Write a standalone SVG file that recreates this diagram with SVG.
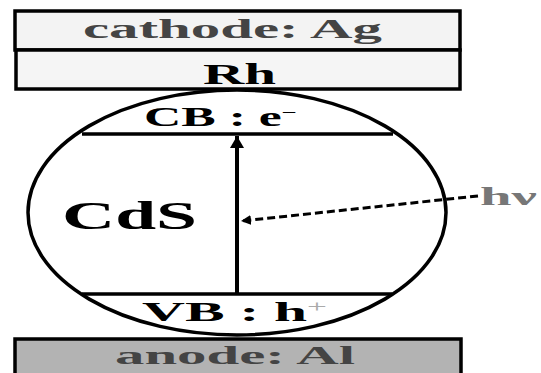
<svg xmlns="http://www.w3.org/2000/svg" width="541" height="373" viewBox="0 0 541 373">
<defs>
<style>
.box{stroke:#000;stroke-width:3.5}
.t{font-family:"Liberation Serif","Times New Roman",serif;font-weight:bold}
.ln{stroke:#000;stroke-width:3.5;fill:none}
</style>
<marker id="ah" markerUnits="userSpaceOnUse" markerWidth="16" markerHeight="16" refX="12" refY="7" orient="auto">
<path d="M0,0 L12,7 L0,14 Z" fill="#000"/>
</marker>
<marker id="ah2" markerUnits="userSpaceOnUse" markerWidth="14" markerHeight="12" refX="10" refY="5" orient="auto">
<path d="M0,0 L10,5 L0,10 Z" fill="#000"/>
</marker>
</defs>
<rect width="541" height="373" fill="#fff"/>
<g id="cathode">
<rect class="box" x="15" y="11" width="445" height="39" fill="#f3f3f3"/>
<text class="t" x="83" y="38" font-size="27" fill="#444" textLength="299" lengthAdjust="spacingAndGlyphs">cathode: Ag</text>
</g>
<g id="rh">
<rect class="box" x="16" y="50" width="444" height="39" fill="#f5f5f5"/>
<text class="t" x="203" y="84" font-size="30" fill="#000" textLength="73" lengthAdjust="spacingAndGlyphs">Rh</text>
</g>
<g id="cds">
<ellipse class="ln" cx="237" cy="212.5" rx="209" ry="122.5" fill="#fff"/>
<line class="ln" x1="82" y1="134" x2="393" y2="134"/>
<line class="ln" x1="82" y1="294" x2="392" y2="294"/>
<text class="t" x="62" y="229" font-size="40" textLength="135" lengthAdjust="spacingAndGlyphs">CdS</text>
<text class="t" x="144" y="126" font-size="27" textLength="153" lengthAdjust="spacingAndGlyphs">CB : e<tspan dy="-9" font-size="14">−</tspan></text>
<text class="t" x="142" y="321" font-size="27" textLength="185" lengthAdjust="spacingAndGlyphs">VB : h<tspan dy="-9" font-size="16" fill="#aaa" font-weight="normal">+</tspan></text>
</g>
<g id="anode">
<rect class="box" x="15" y="339" width="446" height="40" fill="#b3b3b3"/>
<text class="t" x="115" y="364" font-size="26" fill="#444" textLength="240" lengthAdjust="spacingAndGlyphs">anode: Al</text>
</g>
<g id="hv">
<text class="t" x="480" y="205" font-size="25" fill="#777" textLength="57" lengthAdjust="spacingAndGlyphs">hν</text>
</g>
<g id="connectors">
<line x1="237" y1="294" x2="237" y2="136" stroke="#000" stroke-width="4" marker-end="url(#ah)"/>
<line x1="478" y1="196" x2="241" y2="221" stroke="#000" stroke-width="3" stroke-dasharray="8,4" marker-end="url(#ah2)"/>
</g>
</svg>
